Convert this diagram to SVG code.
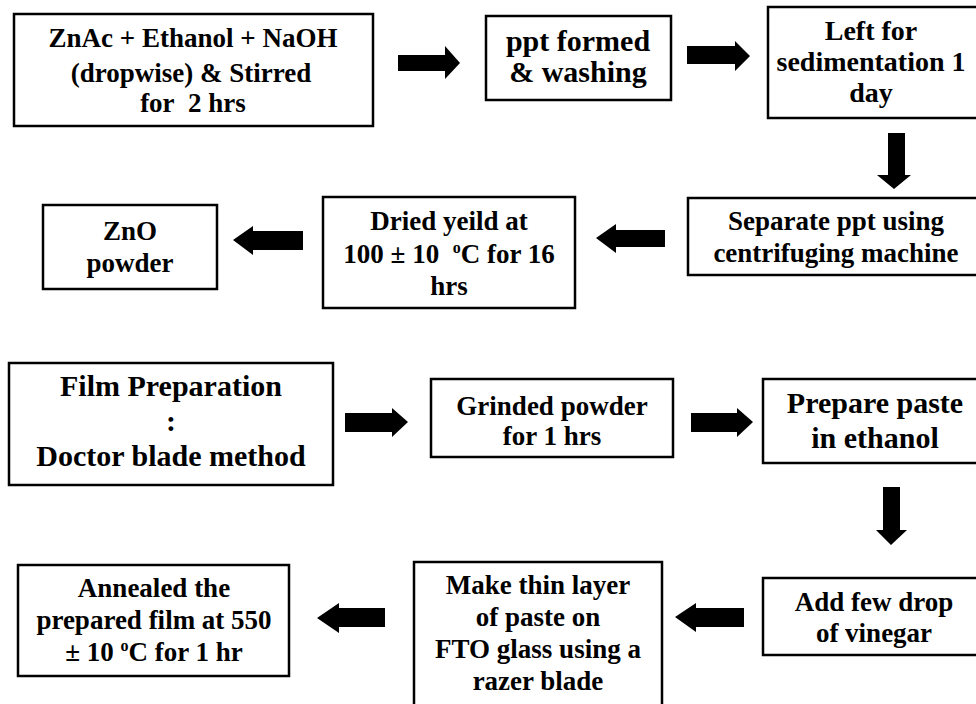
<svg xmlns="http://www.w3.org/2000/svg" width="976" height="704" viewBox="0 0 976 704">
  <style>
    .box { fill: #fff; stroke: #000; stroke-width: 2.5; }
    .lbl { font-family: 'Liberation Serif', 'Times New Roman', serif; font-weight: 700; font-size: 27px; fill: #000; text-anchor: middle; }
    .big { font-size: 30px; }
    .mid { font-size: 28px; }
    .arr { fill: #000; }
  </style>
  <rect width="976" height="704" fill="#fff"/>

  <!-- Powder synthesis -->
  <g id="mix">
    <rect class="box" x="14" y="14" width="359" height="112"/>
    <text class="lbl" x="193" y="47">ZnAc + Ethanol + NaOH</text>
    <text class="lbl" x="191" y="82">(dropwise) &amp; Stirred</text>
    <text class="lbl" x="193" y="112">for&#160; 2 hrs</text>
  </g>
  <g id="ppt">
    <rect class="box" x="486" y="16" width="185" height="84"/>
    <text class="lbl big" x="578" y="51">ppt formed</text>
    <text class="lbl big" x="578" y="82">&amp; washing</text>
  </g>
  <g id="sediment">
    <rect class="box" x="768" y="7" width="215" height="111"/>
    <text class="lbl mid" x="871" y="40">Left for</text>
    <text class="lbl mid" x="871" y="71">sedimentation 1</text>
    <text class="lbl mid" x="871" y="102">day</text>
  </g>
  <g id="separate">
    <rect class="box" x="688" y="198" width="300" height="77"/>
    <text class="lbl" x="836" y="230">Separate ppt using</text>
    <text class="lbl" x="836" y="262">centrifuging machine</text>
  </g>
  <g id="dry">
    <rect class="box" x="323" y="197" width="252" height="111"/>
    <text class="lbl" x="449" y="230">Dried yeild at</text>
    <text class="lbl" x="449" y="263">100 ± 10&#160; <tspan font-size="16" dy="-10">o</tspan><tspan dy="10">C for 16</tspan></text>
    <text class="lbl" x="449" y="295">hrs</text>
  </g>
  <g id="zno">
    <rect class="box" x="43" y="205" width="174" height="84"/>
    <text class="lbl" x="130" y="240">ZnO</text>
    <text class="lbl" x="130" y="272">powder</text>
  </g>

  <!-- Film preparation -->
  <g id="film">
    <rect class="box" x="9" y="363" width="324" height="122"/>
    <text class="lbl big" x="171" y="396">Film Preparation</text>
    <text class="lbl big" x="171" y="431">:</text>
    <text class="lbl big" x="171" y="466">Doctor blade method</text>
  </g>
  <g id="grind">
    <rect class="box" x="431" y="379" width="242" height="78"/>
    <text class="lbl" x="552" y="415">Grinded powder</text>
    <text class="lbl" x="552" y="445">for 1 hrs</text>
  </g>
  <g id="paste">
    <rect class="box" x="763" y="379" width="225" height="84"/>
    <text class="lbl big" x="875" y="413">Prepare paste</text>
    <text class="lbl big" x="875" y="448">in ethanol</text>
  </g>
  <g id="vinegar">
    <rect class="box" x="763" y="578" width="225" height="77"/>
    <text class="lbl" x="874" y="611">Add few drop</text>
    <text class="lbl" x="874" y="642">of vinegar</text>
  </g>
  <g id="layer">
    <rect class="box" x="414" y="562" width="248" height="150"/>
    <text class="lbl" x="538" y="594">Make thin layer</text>
    <text class="lbl" x="538" y="626">of paste on</text>
    <text class="lbl" x="538" y="658">FTO glass using a</text>
    <text class="lbl" x="538" y="690">razer blade</text>
  </g>
  <g id="anneal">
    <rect class="box" x="18" y="565" width="271" height="111"/>
    <text class="lbl" x="154" y="597">Annealed the</text>
    <text class="lbl" x="154" y="629">prepared film at 550</text>
    <text class="lbl" x="154" y="661">± 10 <tspan font-size="16" dy="-10">o</tspan><tspan dy="10">C for 1 hr</tspan></text>
  </g>

  <!-- Block arrows -->
  <g id="connectors" class="arr">
    <polygon points="398,55 445,55 445,46 460,63 445,79 445,71 398,71"/>
    <polygon points="687,46 735,46 735,41 750,56 735,71 735,64 687,64"/>
    <polygon points="888,133 905,133 905,175 911,175 894,189 877,175 888,175"/>
    <polygon points="665,230 616,230 616,224 596,238 616,253 616,247 665,247"/>
    <polygon points="303,231 253,231 253,226 233,240 253,255 253,250 303,250"/>
    <polygon points="345,413 392,413 392,408 408,422 392,437 392,432 345,432"/>
    <polygon points="691,413 737,413 737,408 753,422 737,437 737,432 691,432"/>
    <polygon points="883,487 900,487 900,530 907,530 891,545 876,530 883,530"/>
    <polygon points="744,608 696,608 696,603 675,617 696,632 696,627 744,627"/>
    <polygon points="385,608 339,608 339,603 317,618 339,633 339,627 385,627"/>
  </g>
</svg>
